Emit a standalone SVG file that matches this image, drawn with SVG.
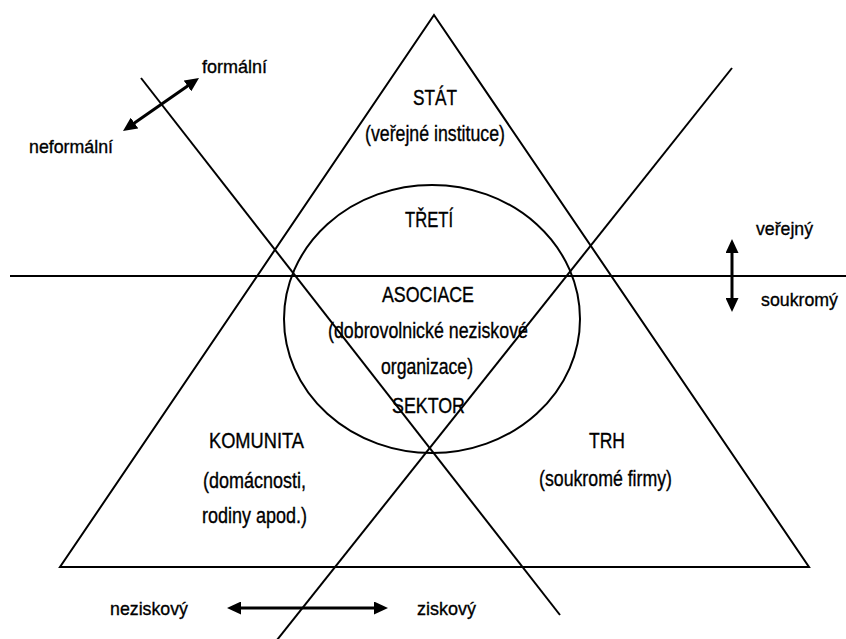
<svg xmlns="http://www.w3.org/2000/svg" width="846" height="639" viewBox="0 0 846 639">
<style>
.ln{stroke:#000;stroke-width:2;fill:none}
.ar{stroke:#000;stroke-width:3;fill:none;marker-start:url(#ah);marker-end:url(#ah)}
text{font-family:"Liberation Sans",Arial,sans-serif;fill:#000;stroke:#000;stroke-width:0.35}
.in{font-size:21.5px}
.sd{font-size:19px}
</style>
<defs>
<marker id="ah" markerUnits="userSpaceOnUse" markerWidth="14" markerHeight="13" refX="4" refY="6.5" orient="auto-start-reverse">
<path d="M0,0 L14,6.5 L0,13 z" fill="#000"/>
</marker>
</defs>
<rect width="846" height="639" fill="#fff"/>
<g id="shapes">
<polygon id="triangle" class="ln" points="434,15 809,567 60,567"/>
<ellipse id="circle" class="ln" cx="432" cy="319" rx="148" ry="134"/>
<line id="horizontal" class="ln" x1="10" y1="276" x2="846" y2="276"/>
<line id="diag-down" class="ln" x1="141" y1="78" x2="560" y2="615"/>
<line id="diag-up" class="ln" x1="732" y1="68" x2="277" y2="640"/>
</g>
<g id="connectors">
<line class="ar" x1="131.2" y1="125.3" x2="190.8" y2="83.7"/>
<line class="ar" x1="732" y1="249" x2="732" y2="302"/>
<line class="ar" x1="237" y1="608" x2="378" y2="608"/>
</g>
<g id="stat">
<text class="in" x="413" y="105" textLength="44" lengthAdjust="spacingAndGlyphs">STÁT</text>
<text class="in" x="365" y="141" textLength="140" lengthAdjust="spacingAndGlyphs">(veřejné instituce)</text>
</g>
<g id="treti-sektor">
<text class="in" x="405" y="227" textLength="48" lengthAdjust="spacingAndGlyphs">TŘETÍ</text>
<text class="in" x="382" y="302" textLength="92" lengthAdjust="spacingAndGlyphs">ASOCIACE</text>
<text class="in" x="328" y="338" textLength="200" lengthAdjust="spacingAndGlyphs">(dobrovolnické neziskové</text>
<text class="in" x="381" y="374" textLength="92" lengthAdjust="spacingAndGlyphs">organizace)</text>
<text class="in" x="392" y="413" textLength="73" lengthAdjust="spacingAndGlyphs">SEKTOR</text>
</g>
<g id="komunita">
<text class="in" x="209" y="448" textLength="95" lengthAdjust="spacingAndGlyphs">KOMUNITA</text>
<text class="in" x="203" y="488" textLength="103" lengthAdjust="spacingAndGlyphs">(domácnosti,</text>
<text class="in" x="202" y="523" textLength="105" lengthAdjust="spacingAndGlyphs">rodiny apod.)</text>
</g>
<g id="trh">
<text class="in" x="589" y="448" textLength="36" lengthAdjust="spacingAndGlyphs">TRH</text>
<text class="in" x="539" y="486" textLength="133" lengthAdjust="spacingAndGlyphs">(soukromé firmy)</text>
</g>
<g id="labels">
<text class="sd" x="202" y="73" textLength="65" lengthAdjust="spacingAndGlyphs">formální</text>
<text class="sd" x="29" y="153" textLength="84" lengthAdjust="spacingAndGlyphs">neformální</text>
<text class="sd" x="756" y="235" textLength="57" lengthAdjust="spacingAndGlyphs">veřejný</text>
<text class="sd" x="761" y="306" textLength="77" lengthAdjust="spacingAndGlyphs">soukromý</text>
<text class="sd" x="110" y="615" textLength="78" lengthAdjust="spacingAndGlyphs">neziskový</text>
<text class="sd" x="417" y="615" textLength="59" lengthAdjust="spacingAndGlyphs">ziskový</text>
</g>
</svg>
